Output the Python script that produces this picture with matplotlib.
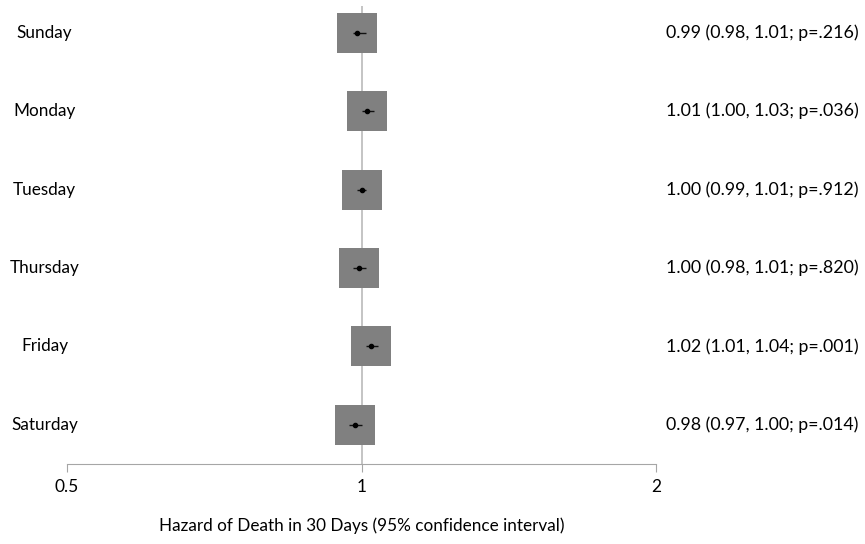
import matplotlib
matplotlib.use("Agg")
import matplotlib.pyplot as plt

plt.rcParams['font.family'] = ['Lato', 'DejaVu Sans']

days = ["Sunday", "Monday", "Tuesday", "Thursday", "Friday", "Saturday"]
hr = [0.99, 1.013, 1.00, 0.995, 1.022, 0.985]
lo = [0.98, 1.00, 0.99, 0.98, 1.01, 0.97]
hi = [1.01, 1.03, 1.01, 1.01, 1.04, 1.00]
labels = ["0.99 (0.98, 1.01; p=.216)", "1.01 (1.00, 1.03; p=.036)",
          "1.00 (0.99, 1.01; p=.912)", "1.00 (0.98, 1.01; p=.820)",
          "1.02 (1.01, 1.04; p=.001)", "0.98 (0.97, 1.00; p=.014)"]
ticks = [0.5, 1, 2]

fig = plt.figure(figsize=(8.65, 5.44), dpi=100)
ax = fig.add_axes([67 / 865, 80 / 544, (656 - 67) / 865, (464 - 6) / 544])
ax.set_xscale('log')
ax.set_xlim(0.5, 2)
ax.set_ylim(5.5, -0.34)

ax.axvline(1, color='#bfbfbf', lw=1.3, zorder=1)

rows = list(range(len(days)))
ax.plot(hr, rows, 's', color='#808080', markersize=28.8, markeredgewidth=0, zorder=2)
ax.hlines(rows, lo, hi, color='#111111', lw=1.0, zorder=3)
ax.plot(hr, rows, 'o', color='black', markersize=3, zorder=4)

for i in rows:
    ax.text(-0.038, i, days[i], transform=ax.get_yaxis_transform(), ha='center',
            va='center', fontsize=12.3)
    ax.text(1.017, i, labels[i], transform=ax.get_yaxis_transform(), ha='left',
            va='center', fontsize=12.8)

for s in ['top', 'right', 'left']:
    ax.spines[s].set_visible(False)
ax.spines['bottom'].set_color('#a6a6a6')
ax.set_yticks([])
ax.set_xticks(ticks)
ax.set_xticklabels(["0.5", "1", "2"], fontsize=12.5)
ax.xaxis.set_minor_locator(matplotlib.ticker.NullLocator())
ax.tick_params(axis='x', length=6, color='#a6a6a6', pad=5)
ax.set_xlabel("Hazard of Death in 30 Days (95% confidence interval)", fontsize=12.3, labelpad=16)

fig.savefig("out.png", dpi=100)
